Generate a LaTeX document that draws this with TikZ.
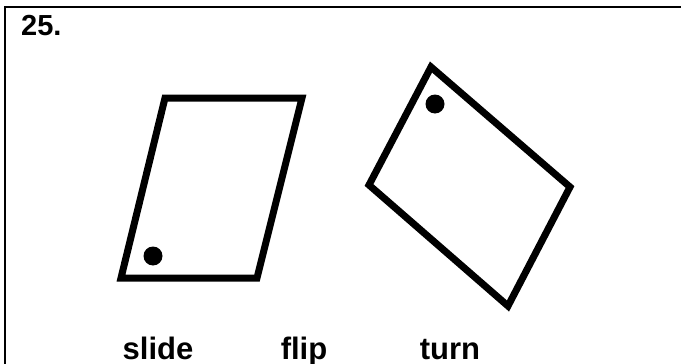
\documentclass[tikz,border=0pt]{standalone}
\usepackage{fontspec}
\setmainfont{Liberation Sans}
\usepackage{tikz}
\usetikzlibrary{positioning}
\definecolor{cInk}{HTML}{000000}
\tikzset{
  frm/.style={draw=cInk, line width=2pt},
  shp/.style={draw=cInk, line width=7pt, line join=miter},
  dotmark/.style={fill=cInk, draw=none},
  lbl/.style={font=\bfseries\fontsize{31}{32}\selectfont, text=cInk, inner sep=0pt, anchor=base},
  num/.style={font=\bfseries\fontsize{29}{30}\selectfont, text=cInk, inner sep=0pt, anchor=base west}
}
\begin{document}
\begin{tikzpicture}[x=1pt,y=-1pt]
\useasboundingbox (0,0) rectangle (681,364);
% frame
\coordinate (fb) at (5,364);
\coordinate (ft) at (5,7);
\coordinate (fr) at (681,7);
\draw[frm] (fb) -- (ft) -- (fr);
\node[num] (qno) at (21,35) {25.};
% slid parallelogram
\coordinate (pa) at (165,98);
\coordinate (pb) at (302,98);
\coordinate (pc) at (257,278);
\coordinate (pd) at (121,278);
\draw[shp] (pa) -- (pb) -- (pc) -- (pd) -- cycle;
\fill[dotmark] (153,256) circle (9.5);
% turned parallelogram
\coordinate (ra) at (431,67);
\coordinate (rb) at (570,187);
\coordinate (rc) at (508,306);
\coordinate (rd) at (369,185);
\draw[shp] (ra) -- (rb) -- (rc) -- (rd) -- cycle;
\fill[dotmark] (435,104) circle (9.5);
% labels
\node[lbl] (slide) at (158,359) {slide};
\node[lbl] (flip) at (304,359) {flip};
\node[lbl] (turn) at (450,359) {turn};
\end{tikzpicture}
\end{document}
